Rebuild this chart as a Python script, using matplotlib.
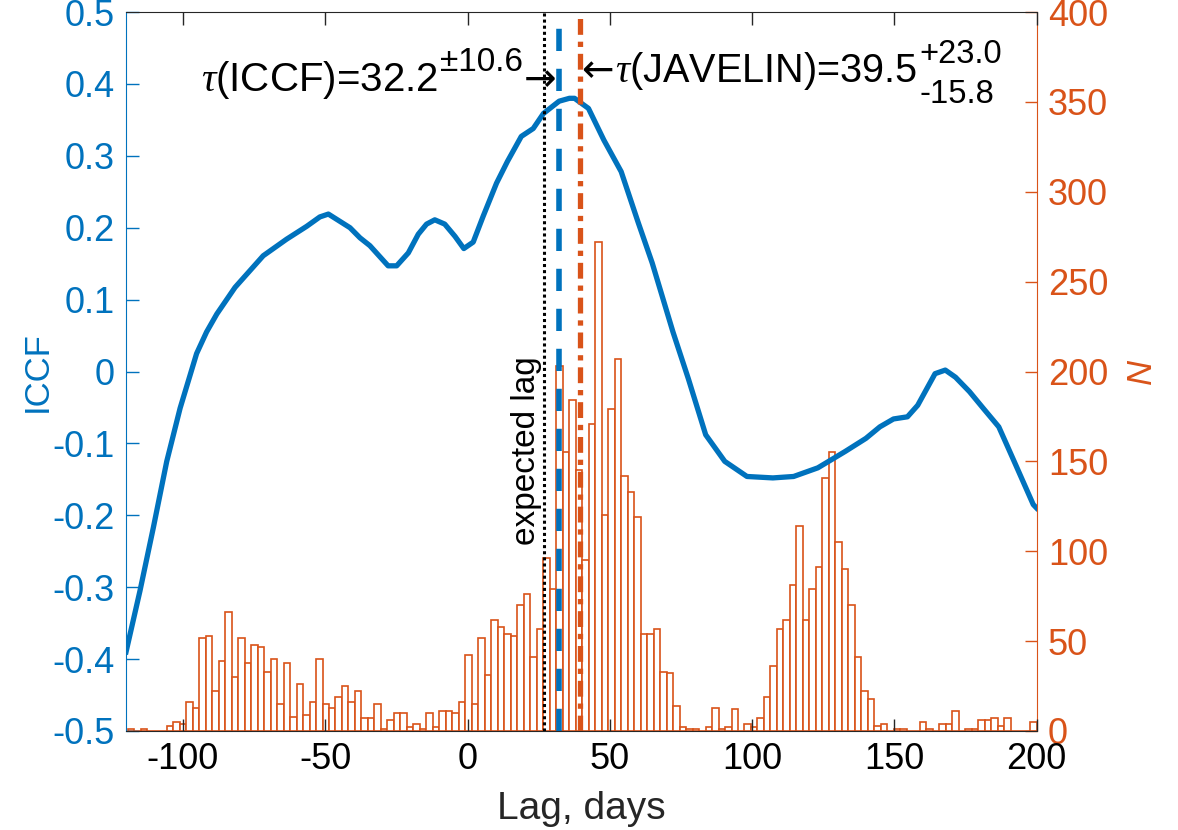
#!/usr/bin/env python3
"""ICCF curve with the JAVELIN lag posterior histogram on a second axis."""

import matplotlib

matplotlib.use("Agg")
import matplotlib.pyplot as plt
import numpy as np


BLUE = "#0072BD"
ORANGE = "#D95319"
DARK = "#262626"

# ICCF as a function of lag (days)
iccf_lag = [
    -120.0, -115.1, -110.4, -105.7, -101.0, -95.2, -91.7, -88.1, -81.7, -71.8,
    -63.6, -56.5, -51.9, -48.9, -41.3, -37.8, -34.3, -27.9, -24.9, -20.8,
    -17.3, -14.4, -11.5, -8.0, -4.4, -1.3, 2.0, 5.5, 10.2, 14.0,
    18.9, 23.1, 26.7, 32.2, 35.8, 37.6, 42.5, 47.9, 54.0, 60.0,
    64.9, 72.2, 77.6, 83.7, 90.4, 98.2, 107.3, 114.6, 123.1, 132.8,
    140.0, 144.9, 149.7, 154.6, 158.2, 164.3, 167.9, 171.5, 176.4, 181.2,
    186.7, 192.1, 198.8, 200.0,
]
iccf_val = [
    -0.390, -0.305, -0.217, -0.125, -0.051, 0.025, 0.055, 0.080, 0.117, 0.161,
    0.184, 0.202, 0.215, 0.219, 0.200, 0.186, 0.175, 0.147, 0.147, 0.165,
    0.191, 0.205, 0.211, 0.205, 0.188, 0.171, 0.180, 0.216, 0.262, 0.292,
    0.327, 0.338, 0.359, 0.376, 0.380, 0.380, 0.366, 0.322, 0.278, 0.207,
    0.151, 0.055, -0.010, -0.088, -0.125, -0.146, -0.148, -0.146, -0.134, -0.111,
    -0.093, -0.077, -0.066, -0.063, -0.047, -0.003, 0.002, -0.008, -0.028, -0.051,
    -0.077, -0.125, -0.185, -0.190,
]

# JAVELIN lag samples, 140 equal bins from hist_lo to hist_hi
hist_lo, hist_hi = -119.4, 200.0
hist_counts = [
    1, 0, 1, 0, 0, 0, 3, 5, 4, 16,
    13, 52, 53, 22, 39, 66, 30, 52, 38, 48,
    47, 33, 40, 15, 38, 8, 26, 9, 16, 40,
    15, 13, 19, 25, 16, 22, 7, 7, 15, 1,
    6, 10, 10, 2, 4, 1, 10, 2, 11, 11,
    10, 16, 42, 15, 52, 31, 62, 58, 54, 53,
    70, 76, 41, 57, 96, 79, 203, 155, 184, 145,
    95, 171, 272, 120, 179, 207, 142, 133, 119, 54,
    54, 57, 33, 32, 14, 2, 1, 1, 0, 2,
    13, 1, 2, 12, 0, 4, 2, 7, 19, 36,
    57, 62, 81, 114, 62, 79, 91, 141, 155, 105,
    90, 70, 41, 22, 18, 3, 4, 0, 1, 1,
    0, 0, 5, 1, 0, 4, 4, 11, 0, 1,
    1, 6, 6, 7, 3, 7, 0, 0, 0, 5,
]

expected_lag = 27.0
tau_iccf, iccf_err = 32.2, 10.6
tau_jav, jav_err_hi, jav_err_lo = 39.5, 23.0, 15.8

x_ticks = [-100, -50, 0, 50, 100, 150, 200]
iccf_ticks = [-0.5, -0.4, -0.3, -0.2, -0.1, 0.0, 0.1, 0.2, 0.3, 0.4, 0.5]
n_ticks = list(range(0, 401, 50))

plt.rcParams["font.family"] = ["Liberation Sans", "DejaVu Sans"]
plt.rcParams["mathtext.fontset"] = "custom"
plt.rcParams["mathtext.rm"] = "Liberation Sans"
plt.rcParams["mathtext.it"] = "Liberation Serif:italic"
plt.rcParams["mathtext.bf"] = "Liberation Sans:bold"
plt.rcParams["axes.unicode_minus"] = False

fig = plt.figure(figsize=(11.78, 8.30), dpi=100)
ax = fig.add_axes([0.107, 0.1193, 0.773, 0.8662])
ax2 = ax.twinx()
ax.set_zorder(ax2.get_zorder() + 1)
ax.patch.set_visible(False)

# histogram on the right axis
edges = np.linspace(hist_lo, hist_hi, len(hist_counts) + 1)
ax2.bar(edges[:-1], hist_counts, width=np.diff(edges), align="edge",
        facecolor="white", edgecolor=ORANGE, linewidth=1.2)
ax2.set_ylim(0, 400)
ax2.set_yticks(n_ticks)
ax2.set_yticklabels([str(v) for v in n_ticks])
ax2.tick_params(axis="y", colors=ORANGE, direction="in", length=9, width=1, labelsize=26, pad=8)
ax2.set_ylabel("N", color=ORANGE, fontsize=25, style="italic", labelpad=12)
for side in ("left", "top", "bottom"):
    ax2.spines[side].set_visible(False)
ax2.spines["right"].set_color(ORANGE)

# ICCF and lag markers on the left axis
ax.plot(iccf_lag, iccf_val, color=BLUE, linewidth=3.8, solid_joinstyle="round")
ax.axvline(expected_lag, color="black", linestyle=(0, (1, 1)), linewidth=2.2)
ax.axvline(tau_iccf, color=BLUE, linestyle=(0, (4, 3.2)), linewidth=4)
ax.axvline(tau_jav, color=ORANGE, linestyle=(0, (3, 1.3, 1, 1.3)), linewidth=3.8)

ax.text(expected_lag - 0.8, -0.11, "expected lag", rotation=90, ha="right", va="center",
        fontsize=24, color="black")

# ICCF label, built right to left from the arrow tip
iccf_y = 0.390
arrow_r = ax.text(tau_iccf - 0.9, iccf_y, "\u2192", ha="right", va="baseline",
                  family="DejaVu Sans", fontsize=28, color="black")
sup_r = ax.annotate(f"\u00b1{iccf_err}", xy=(0, iccf_y), xycoords=(arrow_r, "data"),
                    xytext=(-1, 14.5), textcoords="offset points",
                    ha="right", va="baseline", fontsize=24, color="black")
ax.annotate(rf"$\tau$(ICCF)={tau_iccf}", xy=(0, iccf_y), xycoords=(sup_r, "data"),
            xytext=(-1, 0), textcoords="offset points",
            ha="right", va="baseline", fontsize=29, color="black")

# JAVELIN label, built left to right from the arrow tip
jav_y = 0.403
arrow_l = ax.text(tau_jav + 0.5, jav_y, "\u2190", ha="left", va="baseline",
                  family="DejaVu Sans", fontsize=28, color="black")
jav_main = ax.annotate(rf"$\tau$(JAVELIN)={tau_jav}", xy=(1, jav_y), xycoords=(arrow_l, "data"),
                       xytext=(1, 0), textcoords="offset points",
                       ha="left", va="baseline", fontsize=28.5, color="black")
ax.annotate(f"+{jav_err_hi}", xy=(1, jav_y), xycoords=(jav_main, "data"),
            xytext=(1.5, 13.5), textcoords="offset points",
            ha="left", va="baseline", fontsize=23.5, color="black")
ax.annotate(f"-{jav_err_lo}", xy=(1, jav_y), xycoords=(jav_main, "data"),
            xytext=(1.5, -15.5), textcoords="offset points",
            ha="left", va="baseline", fontsize=23.5, color="black")

ax.set_xlim(-120, 200)
ax.set_ylim(-0.5, 0.5)
ax.set_xticks(x_ticks)
ax.set_xticklabels([str(v) for v in x_ticks])
ax.set_yticks(iccf_ticks)
ax.set_yticklabels([f"{v:g}" for v in iccf_ticks])
ax.tick_params(axis="y", colors=BLUE, direction="in", length=9, width=1, labelsize=26, pad=8)
ax.tick_params(axis="x", direction="in", top=True, length=9, width=1, color=DARK,
               labelcolor="black", labelsize=26, pad=8)
ax.set_xlabel("Lag, days", color=DARK, fontsize=28, labelpad=10)
ax.set_ylabel("ICCF", color=BLUE, fontsize=25, labelpad=-1)
ax.spines["left"].set_color(BLUE)
ax.spines["right"].set_visible(False)
ax.spines["top"].set_color(DARK)
ax.spines["bottom"].set_color(DARK)

fig.savefig("out.png", dpi=100, facecolor="white")
plt.close(fig)
